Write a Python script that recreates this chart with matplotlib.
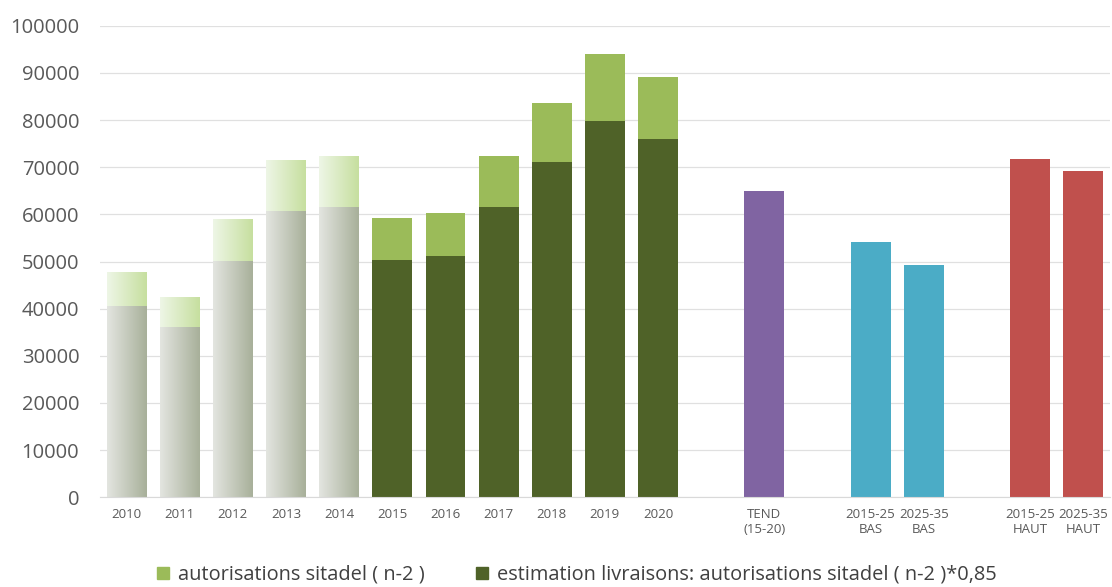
import numpy as np
import matplotlib.pyplot as plt
from matplotlib.colors import LinearSegmentedColormap
from matplotlib.lines import Line2D

plt.rcParams['font.family'] = ['Open Sans', 'DejaVu Sans']

# data
years = ['2010', '2011', '2012', '2013', '2014', '2015', '2016',
         '2017', '2018', '2019', '2020']
autorisations = [47700, 42200, 59000, 71400, 72300, 59300, 60300,
                 72300, 83600, 94000, 89200]
livraisons = [40500, 36000, 50200, 60700, 61500, 50400, 51200,
              61500, 71200, 79900, 75900]
n_gradient = 5  # first years drawn with a faded gradient

scen_labels = ['TEND\n(15-20)', '2015-25\nBAS', '2025-35\nBAS',
               '2015-25\nHAUT', '2025-35\nHAUT']
scen_values = [65000, 54200, 49300, 71800, 69100]
scen_colors = ['#8064a2', '#4bacc6', '#4bacc6', '#c0504d', '#c0504d']
scen_pos = [12, 14, 15, 17, 18]

light = '#9bbb59'
dark = '#4f6228'
width = 0.75

fig = plt.figure(figsize=(11.12, 5.87), dpi=100)
ax = fig.add_axes([0.09, 0.153, 0.908, 0.803])

x = np.arange(len(years))
top = [a - l for a, l in zip(autorisations, livraisons)]

bot_bars = ax.bar(x, livraisons, width, color=dark, zorder=2)
top_bars = ax.bar(x, top, width, bottom=livraisons, color=light, zorder=2)
ax.bar(scen_pos, scen_values, width, color=scen_colors, zorder=2)

# gradient fill for the early years
grey_cm = LinearSegmentedColormap.from_list('g', ['#e3e5e0', '#a8b09a'])
green_cm = LinearSegmentedColormap.from_list('l', ['#eef6e6', '#c6df9f'])
grad = np.linspace(0, 1, 100).reshape(1, -1)
for i in range(n_gradient):
    for bar, cm in ((bot_bars[i], grey_cm), (top_bars[i], green_cm)):
        bar.set_visible(False)
        x0, y0 = bar.get_x(), bar.get_y()
        ax.imshow(grad, cmap=cm, aspect='auto', zorder=2,
                  extent=[x0, x0 + bar.get_width(), y0, y0 + bar.get_height()])

ticks = list(x) + scen_pos
ax.set_xticks(ticks)
ax.set_xticklabels(years + scen_labels, fontsize=9.5, color='#595959',
                   linespacing=1.2)
ax.set_xlim(-0.5, 18.5)
ax.set_ylim(0, 100000)
ax.set_yticks(range(0, 100001, 10000))
ax.tick_params(axis='y', labelsize=14.5, labelcolor='#595959', length=0, pad=15)
ax.tick_params(axis='x', length=0, pad=8)
ax.grid(axis='y', color='#e0e0e0', linewidth=0.9, zorder=0)
for s in ['top', 'right', 'left']:
    ax.spines[s].set_visible(False)
ax.spines['bottom'].set_color('#d9d9d9')

handles = [Line2D([], [], marker='s', linestyle='', color=light, markersize=9),
           Line2D([], [], marker='s', linestyle='', color=dark, markersize=9)]
fig.legend(handles, ['autorisations sitadel ( n-2 )',
                     'estimation livraisons: autorisations sitadel ( n-2 )*0,85'],
           loc='center', bbox_to_anchor=(0.515, 0.021), ncol=2, frameon=False,
           fontsize=14.4, labelcolor='#404040', handletextpad=0.0,
           handlelength=1.5, columnspacing=2.1)

fig.savefig('out.png', dpi=100)
